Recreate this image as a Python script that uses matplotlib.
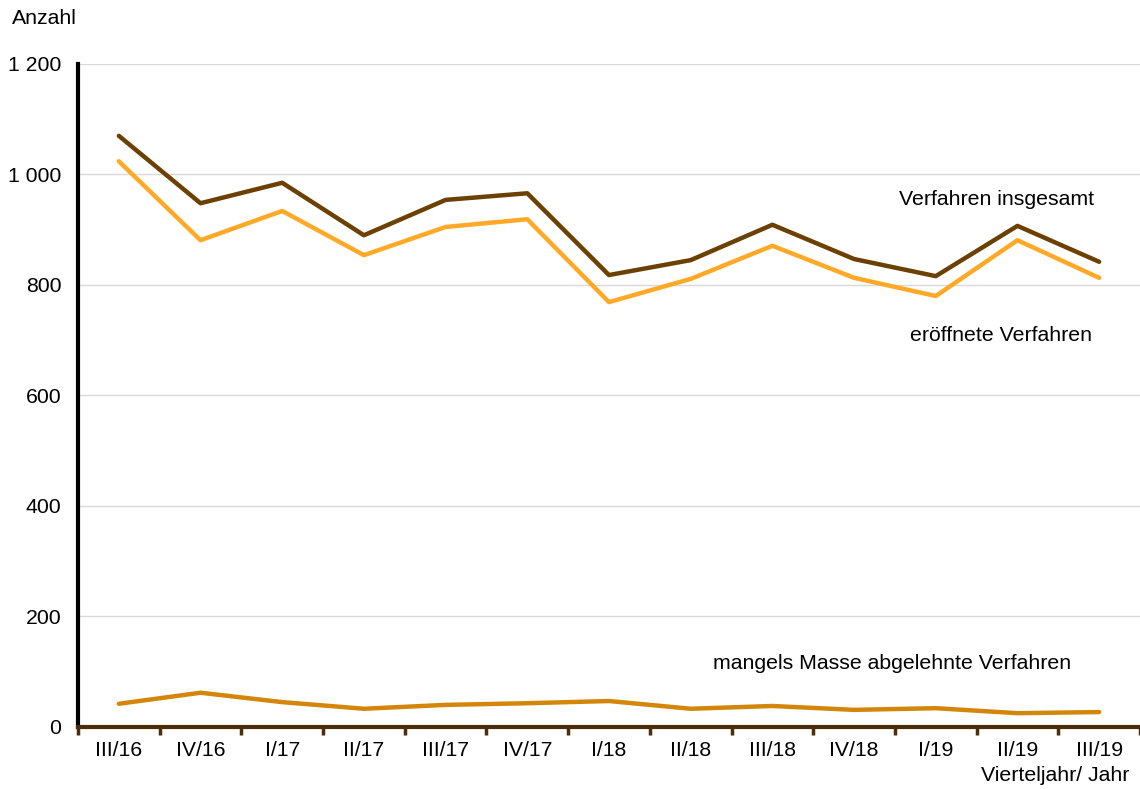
import matplotlib
matplotlib.use("Agg")
import matplotlib.pyplot as plt
from matplotlib.ticker import FixedLocator, FuncFormatter

plt.rcParams['font.family'] = ['Liberation Sans', 'DejaVu Sans']

quarters = ["III/16", "IV/16", "I/17", "II/17", "III/17", "IV/17", "I/18",
            "II/18", "III/18", "IV/18", "I/19", "II/19", "III/19"]
insgesamt = [1070, 948, 985, 890, 954, 966, 818, 845, 909, 847, 816, 907, 842]
eroeffnet = [1024, 881, 934, 854, 905, 919, 769, 811, 871, 813, 780, 881, 813]
mangels = [42, 62, 45, 33, 40, 43, 47, 33, 38, 31, 34, 25, 27]
y_ticks = [0, 200, 400, 600, 800, 1000, 1200]

FS = 15.3

fig = plt.figure(figsize=(11.4, 7.89), dpi=100)
ax = fig.add_axes([0.0684, 0.0786, 0.9316, 0.8403])

x = list(range(len(quarters)))
ax.plot(x, insgesamt, color='#6B4000', lw=3.2, solid_capstyle='round', zorder=3)
ax.plot(x, eroeffnet, color='#FFA927', lw=3.2, solid_capstyle='round', zorder=3)
ax.plot(x, mangels, color='#D4860A', lw=3.2, solid_capstyle='round', zorder=3)

ax.set_xlim(-0.5, len(quarters) - 0.5)
ax.set_ylim(0, 1200)
ax.set_yticks(y_ticks)
ax.yaxis.set_major_formatter(FuncFormatter(lambda v, p: f"{int(v):,}".replace(",", " ")))
ax.grid(axis='y', color='#D9D9D9', lw=1)
ax.set_axisbelow(True)

ax.set_xticks(x)
ax.set_xticklabels(quarters)
ax.tick_params(axis='x', which='major', length=0, pad=10, labelsize=FS)
ax.xaxis.set_minor_locator(FixedLocator([i + 0.5 for i in range(-1, len(quarters))]))
ax.tick_params(axis='x', which='minor', length=6, width=2.5, color='#4A2E0A', direction='out')
ax.tick_params(axis='y', length=0, pad=12, labelsize=FS)

for s in ['top', 'right']:
    ax.spines[s].set_visible(False)
ax.spines['left'].set_color('black')
ax.spines['left'].set_linewidth(3)
ax.spines['bottom'].set_color('#4A2E0A')
ax.spines['bottom'].set_linewidth(3)
ax.spines['bottom'].set_zorder(4)

fig.text(0.0105, 0.977, "Anzahl", fontsize=FS, ha='left', va='center')
fig.text(0.991, 0.017, "Vierteljahr/ Jahr", fontsize=FS, ha='right', va='center')

ax.text(10.74, 954, "Verfahren insgesamt", fontsize=FS, ha='center', va='center')
ax.text(10.8, 708, "eröffnete Verfahren", fontsize=FS, ha='center', va='center')
ax.text(9.47, 114, "mangels Masse abgelehnte Verfahren", fontsize=FS, ha='center', va='center')

fig.savefig("out.png", dpi=100)
